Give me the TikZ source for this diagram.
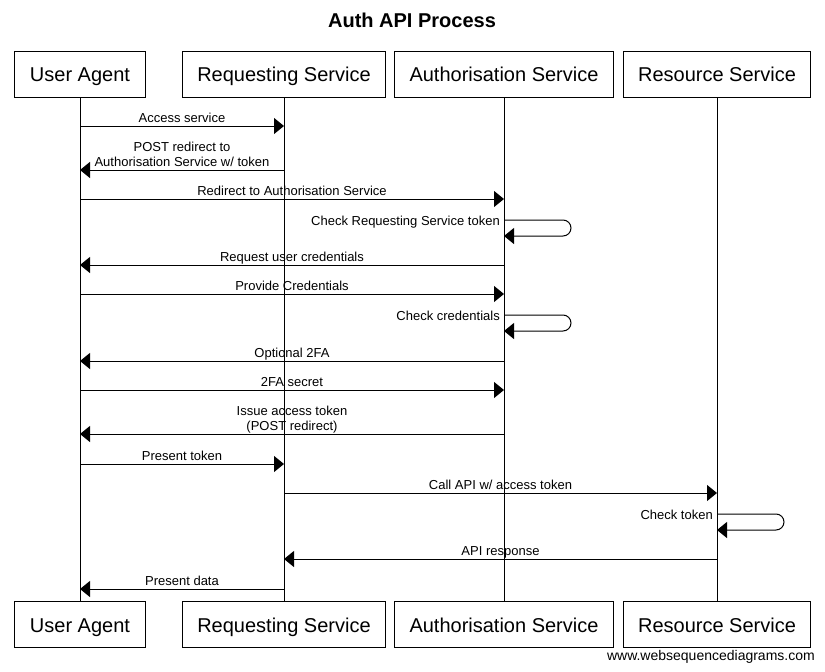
\documentclass[tikz,border=0pt]{standalone}
\usepackage{fontspec}
\setmainfont{Liberation Sans}
\usetikzlibrary{arrows.meta}
\begin{document}
\begin{tikzpicture}[x=1pt,y=-1pt,
  actor/.style={draw,line width=1pt,minimum height=46pt,inner xsep=15pt,text height=19pt,text depth=4pt,font=\fontsize{20}{24}\selectfont},
  life/.style={line width=1pt},
  msg/.style={line width=1pt,-{Triangle[length=10pt,width=16pt]}},
  lbl/.style={font=\fontsize{13}{15}\selectfont,align=center,inner xsep=2pt,inner ysep=0.5pt,text depth=3pt},
  slbl/.style={font=\fontsize{13}{15}\selectfont,inner sep=0pt,anchor=base east},
  self/.style={msg,rounded corners=8pt}]
\useasboundingbox (0,0) rectangle (825,672);
\node[font=\fontsize{20}{24}\selectfont\bfseries] (title) at (412,20) {Auth API Process};
% top actors
\node[actor] (ua) at (80,74) {User Agent};
\node[actor] (rs) at (284,74) {Requesting Service};
\node[actor] (as) at (504,74) {Authorisation Service};
\node[actor] (res) at (717,74) {Resource Service};
% bottom actors
\node[actor] (uab) at (80,624.5) {User Agent};
\node[actor] (rsb) at (284,624.5) {Requesting Service};
\node[actor] (asb) at (504,624.5) {Authorisation Service};
\node[actor] (resb) at (717,624.5) {Resource Service};
% lifelines
\draw[life] (ua) -- (uab);
\draw[life] (rs) -- (rsb);
\draw[life] (as) -- (asb);
\draw[life] (res) -- (resb);
% messages
\draw[msg] (ua |- 0,126) -- (rs |- 0,126) node[lbl,midway,above] {Access service};
\draw[msg] (rs |- 0,170) -- (ua |- 0,170) node[lbl,midway,above] {POST redirect to\\Authorisation Service w/ token};
\draw[msg] (ua |- 0,199) -- (as |- 0,199) node[lbl,midway,above] {Redirect to Authorisation Service};
\draw[self] (as |- 0,220) -- (571,220) -- (571,236) -- (as |- 0,236);
\node[slbl] (l4) at ([xshift=-4pt]as |- 0,225) {Check Requesting Service token};
\draw[msg] (as |- 0,265) -- (ua |- 0,265) node[lbl,midway,above] {Request user credentials};
\draw[msg] (ua |- 0,294) -- (as |- 0,294) node[lbl,midway,above] {Provide Credentials};
\draw[self] (as |- 0,315) -- (571,315) -- (571,331) -- (as |- 0,331);
\node[slbl] (l7) at ([xshift=-4pt]as |- 0,320) {Check credentials};
\draw[msg] (as |- 0,361) -- (ua |- 0,361) node[lbl,midway,above] {Optional 2FA};
\draw[msg] (ua |- 0,390) -- (as |- 0,390) node[lbl,midway,above] {2FA secret};
\draw[msg] (as |- 0,434) -- (ua |- 0,434) node[lbl,midway,above] {Issue access token\\(POST redirect)};
\draw[msg] (ua |- 0,464) -- (rs |- 0,464) node[lbl,midway,above] {Present token};
\draw[msg] (rs |- 0,493) -- (res |- 0,493) node[lbl,midway,above] {Call API w/ access token};
\draw[self] (res |- 0,514) -- (784,514) -- (784,530) -- (res |- 0,530);
\node[slbl] (l13) at ([xshift=-4pt]res |- 0,519) {Check token};
\draw[msg] (res |- 0,559) -- (rs |- 0,559) node[lbl,midway,above] {API response};
\draw[msg] (rs |- 0,589) -- (ua |- 0,589) node[lbl,midway,above] {Present data};
\node[font=\fontsize{14}{16}\selectfont,anchor=east,inner sep=0pt] (foot) at (815,657) {www.websequencediagrams.com};
\end{tikzpicture}
\end{document}
